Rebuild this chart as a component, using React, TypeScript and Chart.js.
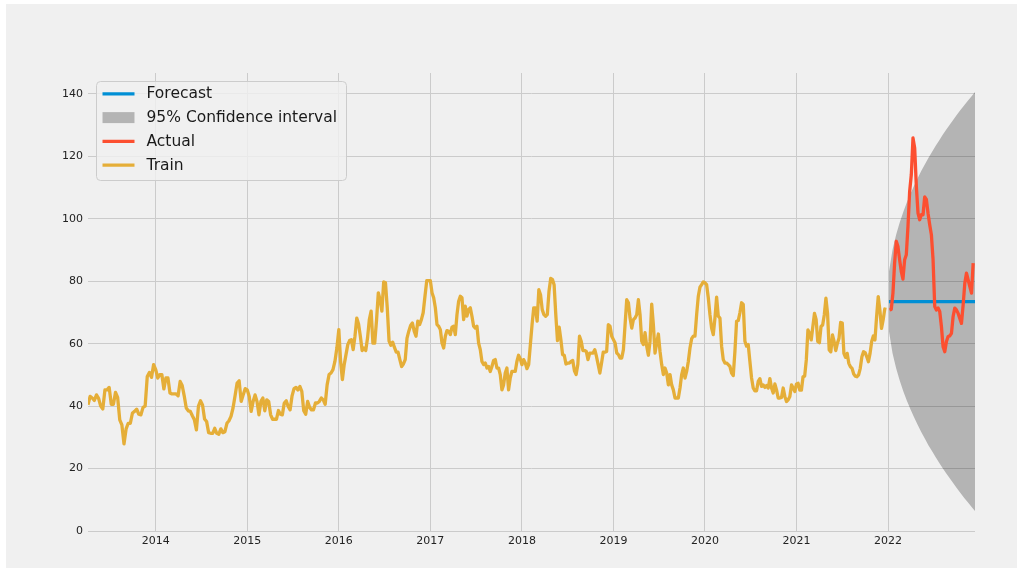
import React, { useEffect, useRef } from "react";
import { Chart, registerables } from "chart.js";

Chart.register(...registerables);

// ---- data (weekly-ish readings, grouped by calendar year) ----
const TRAIN_START = 2013.26;
const X_MAX = 2022.95;
const Y_MAX = 146.7;

const train2013 = [40.4, 43.1, 42.6, 41.8, 43.6, 42.5, 40, 39.1, 45.2, 45.2, 46, 40.6, 40.6, 44.4, 42.8, 35.6, 34, 27.9, 32.7, 34.5, 34.5, 37.8, 38.3, 39, 37.4, 37.2, 39.6, 40, 49.5, 50.8, 49.2, 53.3];
const train2014 = [51.7, 49, 50.1, 50.1, 45.5, 49, 49, 44.2, 43.9, 43.9, 43.9, 43.3, 47.9, 46.6, 43.3, 39.4, 38.5, 38.3, 36.9, 35.6, 32.4, 40, 41.7, 40.4, 35.9, 35.1, 31.5, 31.3, 31.3, 32.9, 31.3, 31, 32.7, 31.5, 31.8, 34.5, 35.3, 36.7, 39.4, 43.3, 47.4, 48.1, 41.5, 43.6, 45.6];
const train2015 = [45.2, 43.1, 38.3, 41.5, 43.6, 41.5, 37.2, 41.5, 42.6, 38.5, 42, 41.5, 37.2, 35.8, 35.8, 35.8, 38.6, 37.4, 37.2, 41, 41.7, 39.9, 38.8, 43.3, 45.6, 46, 45.2, 46.3, 44.7, 38.5, 37.4, 41.5, 39.6, 38.8, 38.8, 41, 41, 41.5, 42.6, 42, 40.6, 46.8, 50.1, 50.6, 51.7, 54.3, 58.6];
const train2016 = [64.5, 54.3, 48.5, 53.3, 56.5, 59.7, 61, 61.3, 58.1, 62.4, 68.2, 66.3, 62.4, 57.8, 58.6, 57.8, 61.8, 67.7, 70.4, 60.2, 60.2, 67.4, 76.3, 74.1, 70.4, 79.8, 79.5, 71.5, 60.8, 59.5, 60.5, 58.8, 57.3, 57.3, 54.9, 52.7, 53.5, 54.9, 61.8, 64, 65.8, 66.6, 64, 62.4, 67.2, 66.1, 67.7, 69.9, 75.2, 80.2, 80.2];
const train2017 = [80.2, 76.3, 74.7, 71.5, 66.1, 65.6, 64.5, 60.2, 58.6, 62.4, 64.2, 64, 62.9, 65.3, 65.6, 62.9, 69.3, 73.6, 75.2, 74.7, 67.7, 72, 68.8, 70.9, 71.5, 68.8, 65.6, 65, 65.6, 60.2, 58.1, 54.3, 53.3, 53.8, 52.2, 52.7, 51.1, 52.7, 54.6, 54.9, 52.2, 52.2, 50.1, 45.2, 46.8, 50.6, 52.2, 45.2, 49, 51.1, 51.1, 51.1, 54.3, 56.3, 55.2];
const train2018 = [53.3, 54.9, 53.8, 52, 53.3, 59.7, 66.1, 71.5, 71.5, 67.2, 77.3, 75.7, 70.9, 69.3, 68.8, 69.3, 76.8, 80.9, 80.6, 78.9, 69.3, 61, 65.3, 61.3, 56.5, 56.3, 53.5, 53.8, 53.8, 54.3, 54.6, 51.3, 50.1, 53.3, 62.4, 60.8, 57.8, 57.8, 57.5, 54.9, 57, 57, 57, 58.1, 55.9, 53.3, 50.6, 53.8, 57.3, 57.3, 57.5, 66.1, 65.6, 62.4];
const train2019 = [61.3, 60.2, 57, 56.5, 55.4, 55.4, 58.1, 66.1, 74.1, 73.1, 68.2, 65, 67.7, 68.2, 69.3, 74.1, 69.3, 60.8, 59.7, 63.5, 59.2, 56.3, 60.8, 72.7, 66.1, 57, 60.2, 63.1, 57.5, 53.3, 50.1, 52.2, 50.6, 46.8, 50.1, 46.8, 45.2, 42.6, 42.6, 42.6, 45.8, 50.1, 52.2, 49, 51.1, 54.3, 58.6, 61.6, 62.4, 62.4, 69.3, 75.2, 78.1, 78.9, 79.8];
const train2020 = [79.5, 78.9, 74.7, 69.3, 65, 62.9, 68.2, 74.9, 68.8, 68.2, 59.2, 54.9, 53.8, 53.8, 53.3, 52.7, 50.6, 49.8, 57.5, 67.2, 67.4, 69.9, 73.1, 72.6, 60.8, 59.2, 59.7, 54.3, 49, 45.8, 44.9, 44.9, 47.9, 48.8, 46.3, 46.8, 46, 46.6, 45.8, 48.8, 45.8, 44.2, 47.1, 45.2, 42.6, 42.6, 42.8, 45.8, 43.1, 41.5, 42, 43.1, 46.8, 45.8, 44.7];
const train2021 = [47.1, 47.3, 45.1, 45.1, 49.4, 49.6, 54.8, 64.4, 63.3, 61.2, 65.5, 69.7, 67.8, 60.7, 60.3, 65.5, 66, 69.2, 74.6, 69.7, 58, 57.4, 62.8, 60.7, 57.8, 60.1, 61.7, 66.8, 66.6, 56.9, 55.6, 56.9, 53.7, 52.6, 52.1, 50.3, 49.6, 49.4, 50, 52.1, 55.8, 57.4, 57.1, 55.8, 54.2, 56.9, 60.7, 62.5, 61.2, 68.7, 75.1, 70.8, 64.9, 67.6, 71.1, 71];

const ACTUAL_START = 2022.017;
const ACTUAL_END = 2022.93;
const actual2022 = [70.8, 71, 76.2, 85.8, 92.8, 91.1, 86.9, 83.1, 80.7, 86.9, 88.5, 97.6, 108.8, 114.2, 125.9, 122.7, 110.4, 101.8, 99.7, 101.3, 101.3, 107, 106.2, 101.8, 98.1, 94.9, 86.9, 71.9, 70.8, 71.4, 70.3, 65.5, 59, 57.4, 60.7, 62.3, 62.5, 63.3, 68.7, 71.4, 70.8, 69.7, 68.1, 66.5, 72.4, 79.4, 82.6, 80.4, 78.3, 76.2, 85.8];

const FORECAST_START = 2022.01;
const FORECAST_END = 2022.95;
const forecastValues = [73.5, 73.5];
const ciUpper = [83, 90.1, 94.9, 98.8, 102.2, 105.3, 108, 110.6, 113, 115.3, 117.4, 119.5, 121.4, 123.3, 125.1, 126.9, 128.6, 130.2, 131.8, 133.4, 134.9, 136.4, 137.8, 139.2, 140.6];
const ciLower = [64, 56.9, 52.1, 48.2, 44.8, 41.7, 39, 36.4, 34, 31.7, 29.6, 27.5, 25.6, 23.7, 21.9, 20.1, 18.4, 16.8, 15.2, 13.6, 12.1, 10.6, 9.2, 7.8, 6.4];

const yearTicks = [2014, 2015, 2016, 2017, 2018, 2019, 2020, 2021, 2022];
const valueTicks = [0, 20, 40, 60, 80, 100, 120, 140];

const legendLabels = ["Forecast", "95% Confidence interval", "Actual", "Train"];

const COLORS = {
  forecast: "#008fd5",
  actual: "#fc4f30",
  train: "#e5ae38",
  ci: "rgba(0,0,0,0.25)",
  grid: "#cbcbcb",
};

const FONT = "'DejaVu Sans', 'Liberation Sans', sans-serif";

// spread values evenly over [start, end)
function spreadOpen(values: number[], start: number, end: number) {
  const n = values.length;
  return values.map((v, i) => ({ x: start + (i * (end - start)) / n, y: v }));
}
// spread values evenly over [start, end]
function spreadClosed(values: number[], start: number, end: number) {
  const n = values.length;
  return values.map((v, i) => ({ x: start + (i * (end - start)) / (n - 1), y: v }));
}

const trainByYear: [number, number[]][] = [
  [2013, train2013],
  [2014, train2014],
  [2015, train2015],
  [2016, train2016],
  [2017, train2017],
  [2018, train2018],
  [2019, train2019],
  [2020, train2020],
  [2021, train2021],
];

const insideLegend = {
  id: "insideLegend",
  afterDraw(chart: any) {
    const ctx = chart.ctx as CanvasRenderingContext2D;
    const area = chart.chartArea;
    const bx = area.left + 8.5;
    const by = area.top + 8.5;
    const bw = 250;
    const bh = 99;
    ctx.save();
    const r = 4;
    ctx.beginPath();
    ctx.moveTo(bx + r, by);
    ctx.lineTo(bx + bw - r, by);
    ctx.quadraticCurveTo(bx + bw, by, bx + bw, by + r);
    ctx.lineTo(bx + bw, by + bh - r);
    ctx.quadraticCurveTo(bx + bw, by + bh, bx + bw - r, by + bh);
    ctx.lineTo(bx + r, by + bh);
    ctx.quadraticCurveTo(bx, by + bh, bx, by + bh - r);
    ctx.lineTo(bx, by + r);
    ctx.quadraticCurveTo(bx, by, bx + r, by);
    ctx.closePath();
    ctx.fillStyle = "rgba(240,240,240,0.8)";
    ctx.fill();
    ctx.strokeStyle = "#cccccc";
    ctx.lineWidth = 1;
    ctx.stroke();

    const hx0 = bx + 6;
    const hx1 = bx + 38;
    const tx = bx + 50;
    const kinds = ["line", "patch", "line", "line"];
    const cols = [COLORS.forecast, COLORS.ci, COLORS.actual, COLORS.train];
    ctx.font = `15.5px ${FONT}`;
    ctx.textBaseline = "middle";
    ctx.textAlign = "left";
    legendLabels.forEach((label, i) => {
      const cy = by + 12.3 + i * 23.8;
      if (kinds[i] === "line") {
        ctx.beginPath();
        ctx.moveTo(hx0, cy);
        ctx.lineTo(hx1, cy);
        ctx.strokeStyle = cols[i];
        ctx.lineWidth = 3.2;
        ctx.stroke();
      } else {
        ctx.fillStyle = cols[i];
        ctx.fillRect(hx0, cy - 5.5, hx1 - hx0, 11);
      }
      ctx.fillStyle = "#1a1a1a";
      ctx.fillText(label, tx, cy + 0.5);
    });
    ctx.restore();
  },
};

export default function App() {
  const ref = useRef<HTMLCanvasElement | null>(null);

  useEffect(() => {
    if (!ref.current) return;
    const trainPoints: { x: number; y: number }[] = [];
    trainByYear.forEach(([yr, vals]) => {
      const start = yr === 2013 ? TRAIN_START : yr;
      trainPoints.push(...spreadOpen(vals, start, yr + 1));
    });
    const actualPoints = spreadClosed(actual2022, ACTUAL_START, ACTUAL_END);
    const forecastPoints = spreadClosed(forecastValues, FORECAST_START, FORECAST_END);
    const upperPoints = spreadClosed(ciUpper, FORECAST_START, FORECAST_END);
    const lowerPoints = spreadClosed(ciLower, FORECAST_START, FORECAST_END);

    const lineBase = {
      pointRadius: 0,
      borderWidth: 3.3,
      tension: 0,
      borderJoinStyle: "round" as const,
      fill: false,
    };

    const chart = new Chart(ref.current, {
      type: "line",
      data: {
        datasets: [
          { ...lineBase, label: "Forecast", data: forecastPoints, borderColor: COLORS.forecast, order: 1 },
          {
            label: "ci_upper",
            data: upperPoints,
            borderWidth: 0,
            pointRadius: 0,
            borderColor: "rgba(0,0,0,0)",
            backgroundColor: COLORS.ci,
            fill: "+1",
            tension: 0,
            order: 3,
          },
          {
            label: "ci_lower",
            data: lowerPoints,
            borderWidth: 0,
            pointRadius: 0,
            borderColor: "rgba(0,0,0,0)",
            fill: false,
            tension: 0,
            order: 4,
          },
          { ...lineBase, label: "Actual", data: actualPoints, borderColor: COLORS.actual, order: 0 },
          { ...lineBase, label: "Train", data: trainPoints, borderColor: COLORS.train, order: 2 },
        ],
      },
      options: {
        animation: false,
        responsive: false,
        devicePixelRatio: 1,
        layout: { padding: { left: 0, top: 69, right: 42, bottom: 0 } },
        plugins: {
          legend: { display: false },
          tooltip: { enabled: false },
          title: { display: false },
        },
        scales: {
          x: {
            type: "linear",
            min: TRAIN_START,
            max: X_MAX,
            afterBuildTicks: (scale: any) => {
              scale.ticks = yearTicks.map((v) => ({ value: v }));
            },
            afterFit: (scale: any) => {
              scale.height = 37;
            },
            ticks: {
              callback: (v: any) => String(v),
              color: "#222",
              font: { family: FONT, size: 11 },
              padding: 4,
              maxRotation: 0,
              autoSkip: false,
            },
            grid: { color: COLORS.grid, lineWidth: 1, drawTicks: false },
            border: { display: false },
          },
          y: {
            type: "linear",
            min: 0,
            max: Y_MAX,
            afterBuildTicks: (scale: any) => {
              scale.ticks = valueTicks.map((v) => ({ value: v }));
            },
            afterFit: (scale: any) => {
              scale.width = 82;
            },
            ticks: {
              callback: (v: any) => String(v),
              color: "#222",
              font: { family: FONT, size: 11 },
              padding: 5,
              autoSkip: false,
            },
            grid: { color: COLORS.grid, lineWidth: 1, drawTicks: false },
            border: { display: false },
          },
        },
      },
      plugins: [insideLegend],
    } as any);
    return () => chart.destroy();
  }, []);

  return (
    <div
      style={{
        position: "absolute",
        left: 6,
        top: 4,
        width: 1011,
        height: 564,
        background: "#f0f0f0",
      }}
    >
      <canvas ref={ref} width={1011} height={564} style={{ display: "block", width: 1011, height: 564 }} />
    </div>
  );
}
